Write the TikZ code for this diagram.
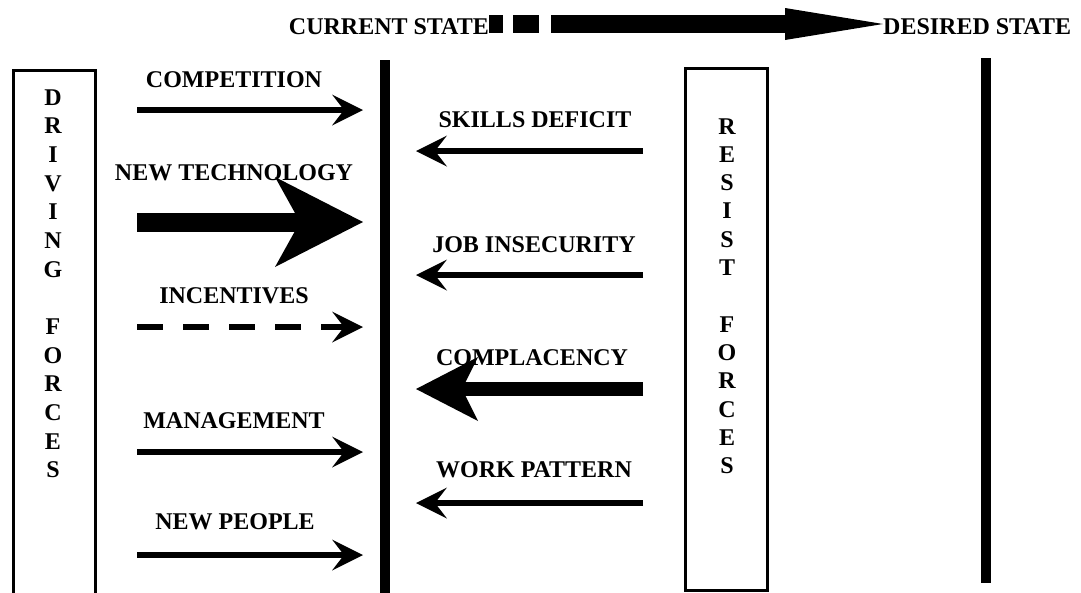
\documentclass[tikz,border=0pt]{standalone}
\usepackage{fontspec}
\setmainfont{Liberation Serif}
\usetikzlibrary{arrows.meta,positioning}

\tikzset{
  every node/.style={inner sep=0pt},
  forcetext/.style={font=\bfseries\fontsize{24}{28}\selectfont, anchor=base},
  letter/.style={forcetext},
  forcebox/.style={draw, line width=3pt},
  statebar/.style={line width=10pt},
  push/.style={line width=6pt, -{Stealth[length=31pt, width=31pt, inset=12pt, line width=0pt]}},
  dashpush/.style={push, dash pattern=on 26pt off 20pt},
  midpush/.style={line width=14pt, -{Stealth[length=62pt, width=64pt, inset=16pt, line width=0pt]}},
  bigpush/.style={line width=19pt, -{Stealth[length=88pt, width=90pt, inset=25pt, line width=0pt]}},
  change/.style={line width=18pt, dash pattern=on 14pt off 10pt on 26pt off 12pt on 1000pt off 0pt,
    -{Triangle[length=98pt, width=32pt, line width=0pt]}}
}

\begin{document}
\begin{tikzpicture}[x=1pt, y=-1pt]
	\useasboundingbox (0,0) rectangle (1081,592);

	% current and desired state
	\node[forcetext, anchor=base east] (current) at (489,34) {CURRENT STATE};
	\node[forcetext, anchor=base west] (desired) at (883,34) {DESIRED STATE};
	\coordinate (change-s) at (489,24);
	\draw[change] (change-s) -- (change-s -| desired.west);

	\coordinate (cur-top) at (385,60);
	\coordinate (cur-bot) at (385,600);
	\draw[statebar] (cur-top) -- (cur-bot);
	\coordinate (des-top) at (985.5,58);
	\coordinate (des-bot) at (985.5,583);
	\draw[statebar] (des-top) -- (des-bot);

	% the two columns of forces
	\draw[forcebox] (13.5,70) rectangle (95.5,600);
	\foreach \ch [count=\i from 0] in {D,R,I,V,I,N,G,{},F,O,R,C,E,S}
		\node[letter] (drive-\i) at (53,105+28.67*\i) {\ch};

	\draw[forcebox] (685.5,68.5) rectangle (767.5,590);
	\foreach \ch [count=\i from 0] in {R,E,S,I,S,T,{},F,O,R,C,E,S}
		\node[letter] (resist-\i) at (727,134+28.3*\i) {\ch};

	% driving forces
	\node[forcetext] (competition) at (234,87) {COMPETITION};
	\coordinate (competition-s) at (137,110);
	\coordinate (competition-e) at (363,110);
	\draw[push] (competition-s) -- (competition-e);

	\node[forcetext] (technology) at (234,180) {NEW TECHNOLOGY};
	\coordinate (technology-s) at (137,222);
	\coordinate (technology-e) at (363,222);
	\draw[bigpush] (technology-s) -- (technology-e);

	\node[forcetext] (incentives) at (234,303) {INCENTIVES};
	\coordinate (incentives-s) at (137,327);
	\coordinate (incentives-e) at (363,327);
	\draw[dashpush] (incentives-s) -- (incentives-e);

	\node[forcetext] (management) at (234,428) {MANAGEMENT};
	\coordinate (management-s) at (137,452);
	\coordinate (management-e) at (363,452);
	\draw[push] (management-s) -- (management-e);

	\node[forcetext] (people) at (235,529) {NEW PEOPLE};
	\coordinate (people-s) at (137,555);
	\coordinate (people-e) at (363,555);
	\draw[push] (people-s) -- (people-e);

	% resisting forces
	\node[forcetext] (skills) at (535,127) {SKILLS DEFICIT};
	\coordinate (skills-s) at (643,151);
	\coordinate (skills-e) at (416,151);
	\draw[push] (skills-s) -- (skills-e);

	\node[forcetext] (insecurity) at (534,252) {JOB INSECURITY};
	\coordinate (insecurity-s) at (643,275);
	\coordinate (insecurity-e) at (416,275);
	\draw[push] (insecurity-s) -- (insecurity-e);

	\node[forcetext] (complacency) at (532,365) {COMPLACENCY};
	\coordinate (complacency-s) at (643,389);
	\coordinate (complacency-e) at (416,389);
	\draw[midpush] (complacency-s) -- (complacency-e);

	\node[forcetext] (pattern) at (534,477) {WORK PATTERN};
	\coordinate (pattern-s) at (643,503);
	\coordinate (pattern-e) at (416,503);
	\draw[push] (pattern-s) -- (pattern-e);
\end{tikzpicture}
\end{document}
